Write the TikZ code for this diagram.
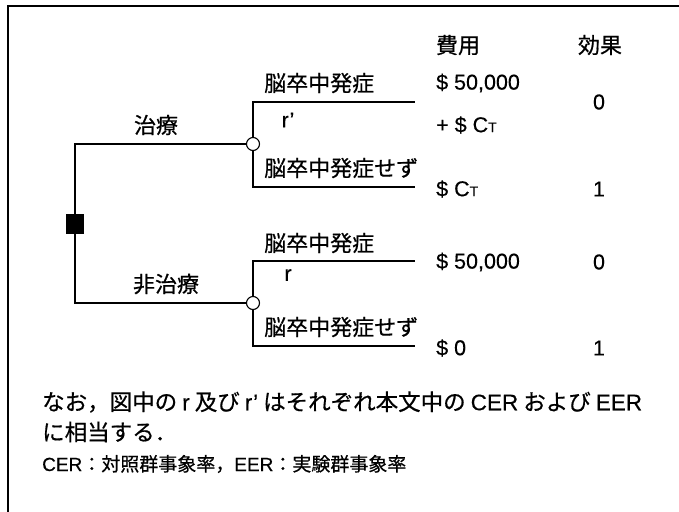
\documentclass[tikz,border=0pt]{standalone}
\usepackage{fontspec}
\setmainfont[FakeBold=0.4]{Liberation Sans}
\newfontfamily\jp[FakeBold=0.6]{Noto Sans CJK JP}
\begin{document}
\begin{tikzpicture}[x=1pt,y=-1pt,
  jtxt/.style={font=\jp\fontsize{22}{24}\selectfont, inner sep=0pt},
  ltxt/.style={font=\fontsize{21.5}{24}\selectfont, inner sep=0pt},
  branch/.style={line width=1.4pt},
  chance/.style={circle, draw, fill=white, line width=1.1pt, minimum size=13pt, inner sep=0pt},
  decision/.style={rectangle, fill=black, minimum width=18pt, minimum height=20pt, inner sep=0pt}]
\useasboundingbox (0,0) rectangle (679,511);
% frame
\draw[line width=2pt] (8,520) -- (8,6) -- (690,6);
% nodes
\node[decision] (d) at (75,224) {};
\node[chance] (c1) at (253,144) {};
\node[chance] (c2) at (253,303) {};
\coordinate (e1) at (415,102);
\coordinate (e2) at (415,187);
\coordinate (e3) at (415,261);
\coordinate (e4) at (415,346);
% connectors
\draw[branch] (c1.west) -| (d.north);
\draw[branch] (c2.west) -| (d.south);
\draw[branch] (c1.north) |- (e1);
\draw[branch] (c1.south) |- (e2);
\draw[branch] (c2.north) |- (e3);
\draw[branch] (c2.south) |- (e4);
% headers
\node[jtxt] (h1) at (458,45) {費用};
\node[jtxt] (h2) at (600,45) {効果};
% branch labels
\node[jtxt] (t1) at (156,125) {治療};
\node[jtxt] (t2) at (166,284) {非治療};
\node[jtxt, anchor=west] (s1) at (264,83) {脳卒中発症};
\node[jtxt, anchor=west] (s2) at (264,168) {脳卒中発症せず};
\node[jtxt, anchor=west] (s3) at (264,243) {脳卒中発症};
\node[jtxt, anchor=west] (s4) at (264,327) {脳卒中発症せず};
\node[ltxt] (p1) at (288,120) {r'};
\node[ltxt] (p2) at (288,275) {r};
% costs
\node[ltxt, anchor=west] (k1) at (436,83) {\$ 50,000};
\node[ltxt, anchor=west] (k2) at (436,125) {+ \$ C{\fontsize{14}{14}\selectfont T}};
\node[ltxt, anchor=west] (k3) at (436,189) {\$ C{\fontsize{14}{14}\selectfont T}};
\node[ltxt, anchor=west] (k4) at (436,262) {\$ 50,000};
\node[ltxt, anchor=west] (k5) at (436,348) {\$ 0};
% effects
\node[ltxt] (v1) at (599,102) {0};
\node[ltxt] (v2) at (599,189) {1};
\node[ltxt] (v3) at (599,262) {0};
\node[ltxt] (v4) at (599,348) {1};
% notes
\node[jtxt, anchor=west, font=\jp\fontsize{22.5}{25}\selectfont] (n1) at (42,402) {なお，図中の {\rmfamily r} 及び {\rmfamily r'} はそれぞれ本文中の {\rmfamily CER} および {\rmfamily EER}};
\node[jtxt, anchor=west, font=\jp\fontsize{22.5}{25}\selectfont] (n2) at (42,432) {に相当する．};
\node[jtxt, anchor=west, font=\jp\fontsize{19}{21}\selectfont] (n3) at (42,464) {{\rmfamily CER}：対照群事象率，{\rmfamily EER}：実験群事象率};
\end{tikzpicture}
\end{document}
